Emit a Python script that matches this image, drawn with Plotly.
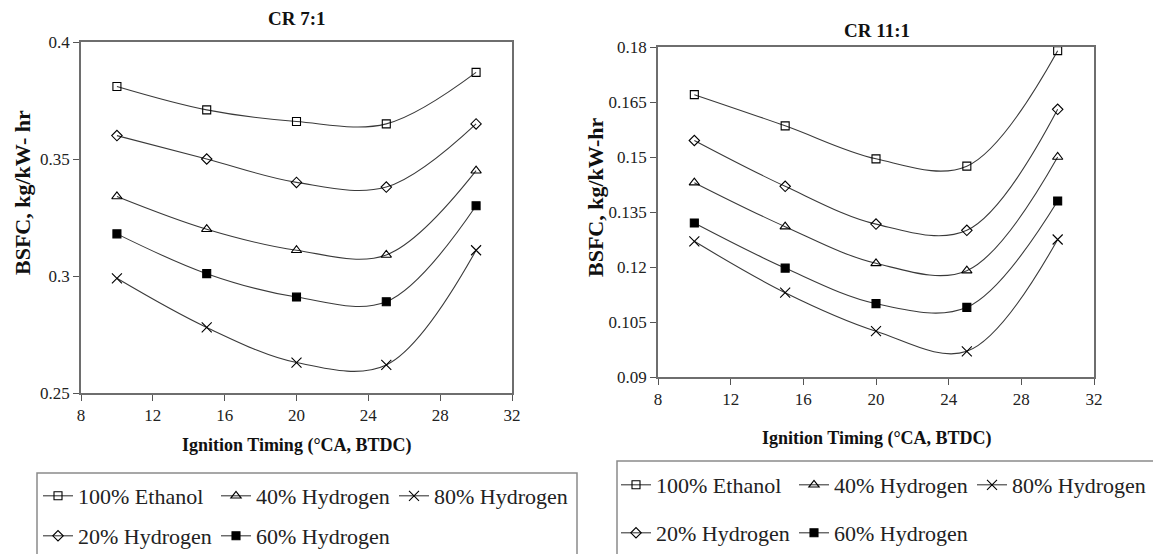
import plotly.graph_objects as go
from plotly.subplots import make_subplots

# the page body adds an 8px margin, so the figure is drawn 8px smaller
# and every reference pixel position is shifted by that offset
OFF = 8
W, H = 1161 - OFF, 554 - OFF

# ignition timing, deg CA BTDC
timing = [10, 15, 20, 25, 30]

# BSFC (kg/kW-hr), compression ratio 7:1
cr7_ethanol = [0.381, 0.371, 0.366, 0.365, 0.387]
cr7_h20 = [0.360, 0.350, 0.340, 0.338, 0.365]
cr7_h40 = [0.334, 0.320, 0.311, 0.309, 0.345]
cr7_h60 = [0.318, 0.301, 0.291, 0.289, 0.330]
cr7_h80 = [0.299, 0.278, 0.263, 0.262, 0.311]

# BSFC (kg/kW-hr), compression ratio 11:1
cr11_ethanol = [0.167, 0.1585, 0.1495, 0.1475, 0.179]
cr11_h20 = [0.1545, 0.142, 0.1317, 0.130, 0.163]
cr11_h40 = [0.143, 0.131, 0.121, 0.119, 0.150]
cr11_h60 = [0.132, 0.1197, 0.110, 0.109, 0.138]
cr11_h80 = [0.127, 0.113, 0.1025, 0.097, 0.1275]

names = ['100% Ethanol', '20% Hydrogen', '40% Hydrogen', '60% Hydrogen', '80% Hydrogen']
x_ticks = [8, 12, 16, 20, 24, 28, 32]
cr7_yticks = [0.25, 0.3, 0.35, 0.4]
cr11_yticks = [0.09, 0.105, 0.12, 0.135, 0.15, 0.165, 0.18]

SERIF = 'Liberation Serif, Times New Roman, serif'
symbols = ['square-open', 'diamond-open', 'triangle-up-open', 'square', 'x-thin-open']
sizes = [8, 8, 9, 8, 10]
# legend rows: first row holds ethanol/40/80, second row holds 20/60
row_of = [0, 1, 0, 1, 0]


def px_x(p):
    return (p - OFF) / W


def px_y(p):
    return 1 - (p - OFF) / H


fig = make_subplots(rows=1, cols=2)

panels = [
    ([cr7_ethanol, cr7_h20, cr7_h40, cr7_h60, cr7_h80], 1, ['legend', 'legend2']),
    ([cr11_ethanol, cr11_h20, cr11_h40, cr11_h60, cr11_h80], 2, ['legend3', 'legend4']),
]
for series, col, legs in panels:
    for i, vals in enumerate(series):
        fig.add_trace(go.Scatter(
            x=timing, y=vals, name=names[i],
            mode='lines+markers',
            line=dict(color='#3a3a3a', width=1.1, shape='spline', smoothing=1),
            marker=dict(symbol=symbols[i], size=sizes[i], color='black',
                        line=dict(color='black', width=1.1)),
            legend=legs[row_of[i]],
        ), row=1, col=col)

axis_common = dict(showgrid=False, zeroline=False, showline=True, mirror=True,
                   automargin=False,
                   linecolor='#6e6e6e', linewidth=1.6, ticks='outside', ticklen=6,
                   tickcolor='#555', tickfont=dict(family=SERIF, size=17, color='#222'))

fig.update_xaxes(axis_common, range=[8, 32], tickvals=x_ticks)
fig.update_yaxes(axis_common)
fig.update_layout(
    xaxis=dict(domain=[px_x(81), px_x(512)]),
    yaxis=dict(domain=[px_y(393), px_y(42)], range=[0.25, 0.4], tickvals=cr7_yticks),
    xaxis2=dict(domain=[px_x(658), px_x(1094)]),
    yaxis2=dict(domain=[px_y(377), px_y(47)], range=[0.09, 0.18], tickvals=cr11_yticks),
)

legend_font = dict(family=SERIF, size=22, color='#222')
legend_common = dict(orientation='h', xanchor='left', yanchor='middle',
                     bgcolor='rgba(0,0,0,0)', borderwidth=0, itemwidth=30,
                     entrywidth=133, traceorder='normal')
fig.update_layout(
    legend=dict(legend_common, x=px_x(38), y=px_y(496), font=legend_font),
    legend2=dict(legend_common, x=px_x(38), y=px_y(536), font=legend_font),
    legend3=dict(legend_common, x=px_x(616), y=px_y(485), font=legend_font),
    legend4=dict(legend_common, x=px_x(616), y=px_y(533), font=legend_font),
)

# legend frames
for x0, x1, top in [(37, 577, 473), (617, 1157, 461)]:
    fig.add_shape(type='rect', xref='paper', yref='paper',
                  x0=px_x(x0), x1=px_x(x1), y0=-0.05, y1=px_y(top),
                  line=dict(color='#8a8a8a', width=1.5))

bold = dict(family=SERIF, color='#111')
notes = [
    ('<b>CR 7:1</b>', 297, 18, 19, 0),
    ('<b>CR 11:1</b>', 877, 31, 19, 0),
    ('<b>Ignition Timing (°CA, BTDC)</b>', 297, 445, 18, 0),
    ('<b>Ignition Timing (°CA, BTDC)</b>', 877, 438, 18, 0),
    ('<b>BSFC, kg/kW- hr</b>', 22, 193, 22, -90),
    ('<b>BSFC, kg/kW-hr</b>', 595, 197, 22, -90),
]
for text, x, y, size, angle in notes:
    fig.add_annotation(text=text, xref='paper', yref='paper', x=px_x(x), y=px_y(y),
                       xanchor='center', yanchor='middle', showarrow=False,
                       textangle=angle, font=dict(bold, size=size))

fig.update_layout(
    width=W, height=H,
    margin=dict(l=0, r=0, t=0, b=0, autoexpand=False),
    paper_bgcolor='white', plot_bgcolor='white',
    font=dict(family=SERIF),
)

fig.write_html("out.html")
